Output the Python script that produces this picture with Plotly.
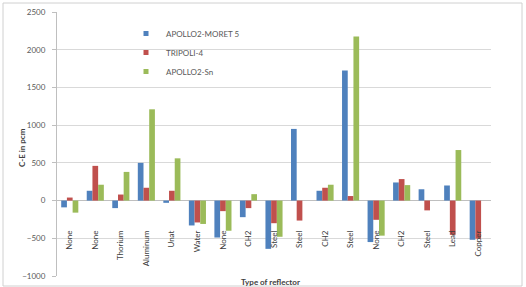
import plotly.graph_objects as go

categories = ["None", "None", "Thorium", "Aluminum", "Unat", "Water", "None", "CH2",
              "Steel", "Steel", "CH2", "Steel", "None", "CH2", "Steel", "Lead", "Copper"]
apollo_moret = [-90, 130, -100, 500, -30, -330, -490, -220, -640, 950, 130, 1725, -550, 240, 150, 200, -520]
tripoli = [40, 460, 80, 170, 130, -290, -140, -100, -300, -265, 170, 60, -255, 285, -130, -455, -505]
apollo_sn = [-160, 210, 380, 1210, 560, -310, -400, 85, -480, 0, 210, 2175, -465, 205, 0, 670, 0]
series_names = ["APOLLO2-MORET 5", "TRIPOLI-4", "APOLLO2-Sn"]
colors = ["#4F81BD", "#C0504D", "#9BBB59"]

xs = list(range(len(categories)))
W, H = 526, 287
L, R, T, B = 57, 35, 12, 11
pw, ph = W - L - R, H - T - B

fig = go.Figure()
for name, vals, c in zip(series_names, [apollo_moret, tripoli, apollo_sn], colors):
    fig.add_trace(go.Bar(x=xs, y=vals, name=name, showlegend=False,
                         marker=dict(color=c, line=dict(width=0))))
# legend entries (small square swatches like the original)
for name, c in zip(series_names, colors):
    fig.add_trace(go.Scatter(x=[None], y=[None], mode="markers", name=name,
                             marker=dict(symbol="square", size=5, color=c)))

def px_to_paper_x(p):
    return (p - L) / pw

def px_to_paper_y(p):
    return (H - B - p) / ph

fig.update_layout(
    width=W, height=H,
    margin=dict(l=L, r=R, t=T, b=B, autoexpand=False),
    paper_bgcolor="white", plot_bgcolor="white",
    barmode="group", bargap=0.33, bargroupgap=0,
    font=dict(family="Lato", size=8, color="#595959"),
    showlegend=True,
    legend=dict(x=px_to_paper_x(126), y=px_to_paper_y(19), xanchor="left", yanchor="top",
                bgcolor="rgba(0,0,0,0)", font=dict(size=8, color="#595959"),
                itemwidth=30, tracegroupgap=0),
    xaxis=dict(range=[-0.5, len(categories) - 0.5], tickmode="array", tickvals=xs,
               ticktext=categories, tickangle=-90, showgrid=False, zeroline=False,
               showline=False, ticks="", anchor="free", automargin=False,
               position=px_to_paper_y(228), tickfont=dict(size=8, color="#404040")),
    yaxis=dict(range=[-1000, 2500], dtick=500, tick0=-1000, showgrid=True, automargin=False,
               gridcolor="#D9D9D9", gridwidth=1, zeroline=True, zerolinecolor="#BFBFBF",
               zerolinewidth=1, showline=True, linecolor="#BFBFBF", linewidth=1,
               ticks="outside", ticklen=4, tickcolor="#BFBFBF", ticklabelstandoff=5,
               tickfont=dict(size=8, color="#595959")),
    annotations=[
        dict(text="<b>C-E in pcm</b>", textangle=-90, xref="paper", yref="paper",
             x=px_to_paper_x(22), y=px_to_paper_y(148), xanchor="center", yanchor="middle",
             showarrow=False, font=dict(size=8, color="#404040")),
        dict(text="<b>Type of reflector</b>", xref="paper", yref="paper",
             x=px_to_paper_x(270), y=px_to_paper_y(282), xanchor="center", yanchor="middle",
             showarrow=False, font=dict(size=8, color="#404040")),
    ],
    shapes=[
        dict(type="rect", xref="paper", yref="paper",
             x0=px_to_paper_x(3), x1=px_to_paper_x(522),
             y0=px_to_paper_y(286), y1=px_to_paper_y(3),
             line=dict(color="#D0D0D0", width=1), fillcolor="rgba(0,0,0,0)", layer="below"),
    ],
)

fig.write_html("out.html")
